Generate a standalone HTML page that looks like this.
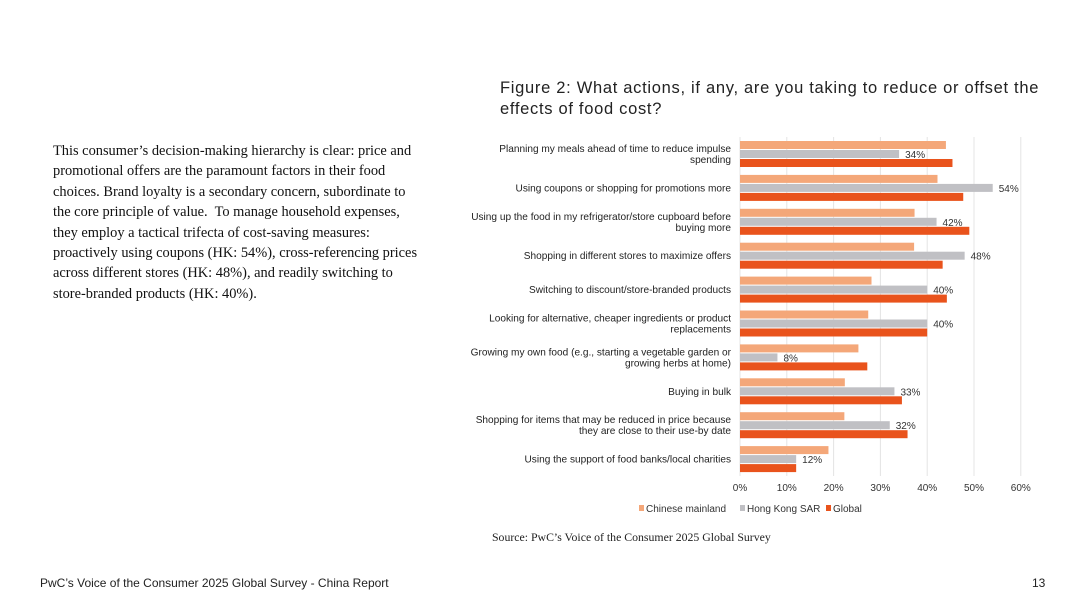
<!DOCTYPE html>
<html><head><meta charset="utf-8"><style>
body{margin:0;width:1080px;height:608px;background:#fff;position:relative;overflow:hidden;font-family:"Liberation Sans",sans-serif;color:#222}
.p{position:absolute;left:53px;top:141px;width:420px;white-space:nowrap;font-family:"Liberation Serif",serif;font-size:14.4px;line-height:20.4px;color:#111}
.t{position:absolute;left:500px;top:78px;font-size:16.5px;line-height:21px;color:#222;letter-spacing:0.7px}
.src{position:absolute;left:492px;top:530px;font-family:"Liberation Serif",serif;font-size:11.8px;color:#222}
.f{position:absolute;top:576px;font-size:12px;color:#222}
</style></head><body>
<div class="p">This consumer’s decision-making hierarchy is clear: price and<br>promotional offers are the paramount factors in their food<br>choices. Brand loyalty is a secondary concern, subordinate to<br>the core principle of value.&nbsp; To manage household expenses,<br>they employ a tactical trifecta of cost-saving measures:<br>proactively using coupons (HK: 54%), cross-referencing prices<br>across different stores (HK: 48%), and readily switching to<br>store-branded products (HK: 40%).</div>
<div class="t">Figure 2: What actions, if any, are you taking to reduce or offset the<br>effects of food cost?</div>
<svg id="c" width="1080" height="608" style="position:absolute;left:0;top:0"></svg>
<div class="src">Source: PwC’s Voice of the Consumer 2025 Global Survey</div>
<div class="f" style="left:40px">PwC’s Voice of the Consumer 2025 Global Survey - China Report</div>
<div class="f" style="left:1032px">13</div>
<script>
const categories=[["Planning my meals ahead of time to reduce impulse","spending"],["Using coupons or shopping for promotions more"],["Using up the food in my refrigerator/store cupboard before","buying more"],["Shopping in different stores to maximize offers"],["Switching to discount/store-branded products"],["Looking for alternative, cheaper ingredients or product","replacements"],["Growing my own food (e.g., starting a vegetable garden or","growing herbs at home)"],["Buying in bulk"],["Shopping for items that may be reduced in price because","they are close to their use-by date"],["Using the support of food banks/local charities"]];
const mainland=[44,42.2,37.3,37.2,28.1,27.4,25.3,22.4,22.3,18.9];
const hongkong=[34,54,42,48,40,40,8,33,32,12];
const global=[45.4,47.7,49,43.3,44.2,40,27.2,34.6,35.8,12];
const ticks=[0,10,20,30,40,50,60];
const seriesNames=["Chinese mainland","Hong Kong SAR","Global"];
const colors=["#f4a779","#c0c0c4","#e9531c"];
const svg=document.getElementById('c');const NS="http://www.w3.org/2000/svg";
const x0=740,pxPer=4.68,top0=137,band=33.9;
const X=v=>x0+v*pxPer;
function mk(t,a){const e=document.createElementNS(NS,t);for(const k in a)e.setAttribute(k,a[k]);svg.appendChild(e);return e;}
ticks.forEach(t=>{
 const l=mk('line',{x1:X(t),x2:X(t),y1:top0,y2:top0+band*categories.length,stroke:'#e4e4e4','stroke-width':1});
 
 
 const tx=mk('text',{x:X(t),y:491,'text-anchor':'middle','font-size':10,fill:'#333'});tx.textContent=t+'%';
 
 
});
const data=[mainland,hongkong,global];
categories.forEach((c,i)=>{
 const y=top0+i*band;
 const lab=mk('text',{x:731,'text-anchor':'end','font-size':10.1,fill:'#222'});
 
 
 const cy=y+band/2;
 c.forEach((s,j)=>{const ts=document.createElementNS(NS,'tspan');ts.setAttribute('x',731);ts.setAttribute('y',cy+3.5+(j-(c.length-1)/2)*11);ts.textContent=s;lab.appendChild(ts);});
 data.forEach((arr,k)=>{
  const r=mk('rect',{x:x0,y:y+4+k*9,width:X(arr[i])-x0,height:8,fill:colors[k]});
  
  
 });
 const v=mk('text',{x:X(hongkong[i])+6,y:y+4+9+8,'font-size':10,fill:'#333'});v.textContent=hongkong[i]+'%';
 
 
});
const lx=[639,740,826];
seriesNames.forEach((n,k)=>{
 const r=mk('rect',{x:lx[k],y:505,width:5,height:6,fill:colors[k]});
 
 
 const t=mk('text',{x:lx[k]+7,y:512,'font-size':10,fill:'#333'});t.textContent=n;
 
 
});
</script>
</body></html>
